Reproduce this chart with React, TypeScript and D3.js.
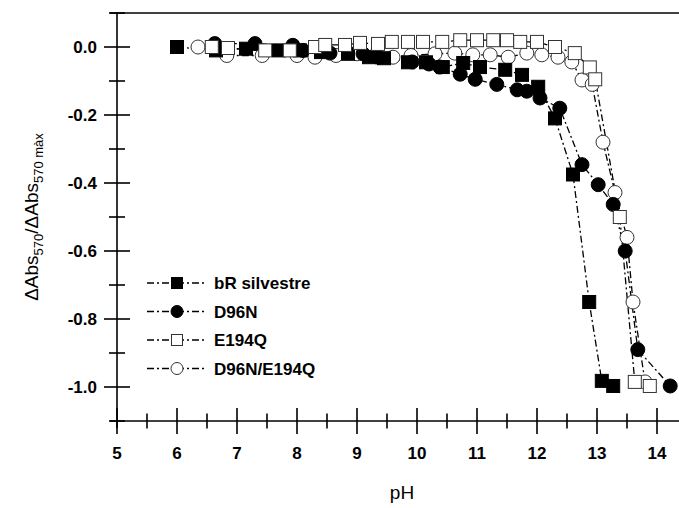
import React, { useEffect, useRef } from "react";
import * as d3 from "d3";

// pH vs normalised absorbance change
const bR: [number, number][] = [
  [6.0, 0], [6.65, -0.01], [7.15, -0.005], [7.7, -0.01], [8.05, -0.01], [8.4, -0.015],
  [8.85, -0.02], [9.2, -0.03], [9.45, -0.033], [9.85, -0.045], [10.15, -0.045],
  [10.43, -0.059], [10.77, -0.047], [11.05, -0.059], [11.47, -0.067], [11.75, -0.082],
  [12.02, -0.117], [12.3, -0.21], [12.6, -0.375], [12.87, -0.75], [13.08, -0.982], [13.27, -0.997],
];
const d96n: [number, number][] = [
  [6.63, 0.01], [7.3, 0.01], [7.93, 0.005], [8.1, -0.01], [8.55, -0.018], [9.1, -0.02],
  [9.35, -0.03], [9.92, -0.044], [10.2, -0.05], [10.38, -0.059], [10.72, -0.08],
  [10.97, -0.095], [11.33, -0.11], [11.67, -0.126], [11.83, -0.13], [12.05, -0.15],
  [12.38, -0.18], [12.75, -0.346], [13.02, -0.405], [13.27, -0.463], [13.47, -0.6],
  [13.68, -0.89], [14.22, -0.997],
];
const e194q: [number, number][] = [
  [6.58, 0], [6.85, -0.003], [7.47, -0.01], [7.88, -0.01], [8.3, 0.0], [8.47, 0.006],
  [8.8, 0.006], [9.05, 0.012], [9.35, 0.009], [9.58, 0.015], [9.85, 0.015], [10.1, 0.015],
  [10.42, 0.015], [10.72, 0.02], [11.0, 0.02], [11.27, 0.02], [11.5, 0.02], [11.72, 0.015],
  [12.0, 0.015], [12.3, 0.0], [12.63, -0.018], [12.88, -0.06], [12.97, -0.095],
  [13.38, -0.5], [13.63, -0.985], [13.88, -0.997],
];
const d96nE194q: [number, number][] = [
  [6.35, 0], [6.83, -0.025], [7.42, -0.025], [8.0, -0.025], [8.3, -0.03], [8.65, -0.025],
  [9.0, -0.02], [9.3, -0.025], [9.6, -0.03], [9.9, -0.025], [10.3, -0.02], [10.63, -0.018],
  [10.93, -0.023], [11.22, -0.023], [11.52, -0.03], [11.83, -0.018], [12.08, -0.023],
  [12.35, -0.03], [12.58, -0.044], [12.75, -0.097], [12.92, -0.11], [13.1, -0.28],
  [13.3, -0.428], [13.5, -0.56], [13.6, -0.75], [13.8, -0.985],
];

const seriesNames = ["bR silvestre", "D96N", "E194Q", "D96N/E194Q"];
const xTicks = [5, 6, 7, 8, 9, 10, 11, 12, 13, 14];
const yTicks = [0, -0.2, -0.4, -0.6, -0.8, -1.0];

export default function App() {
  const ref = useRef<SVGSVGElement>(null);

  useEffect(() => {
    const svg = d3.select(ref.current);
    svg.selectAll("*").remove();

    const x = d3.scaleLinear().domain([5, 14]).range([117, 657]);
    const y = d3.scaleLinear().domain([-1.1, 0.1]).range([421, 13]);
    const font = "Arial, 'Liberation Sans', sans-serif";

    const series = [
      { name: seriesNames[3], data: d96nE194q, shape: "circle", fill: "#fff" },
      { name: seriesNames[0], data: bR, shape: "square", fill: "#000" },
      { name: seriesNames[1], data: d96n, shape: "circle", fill: "#000" },
      { name: seriesNames[2], data: e194q, shape: "square", fill: "#fff" },
    ];

    const line = d3.line<[number, number]>().x((d) => x(d[0])).y((d) => y(d[1]));

    const drawMarker = (g: any, shape: string, fill: string, cx: number, cy: number, s: number) => {
      if (shape === "square") {
        g.append("rect")
          .attr("x", cx - s / 2).attr("y", cy - s / 2)
          .attr("width", s).attr("height", s)
          .attr("fill", fill)
          .attr("stroke", fill === "#000" ? "#000" : "#333")
          .attr("stroke-width", 1);
      } else {
        g.append("circle")
          .attr("cx", cx).attr("cy", cy).attr("r", s / 2)
          .attr("fill", fill)
          .attr("stroke", fill === "#000" ? "#000" : "#333")
          .attr("stroke-width", 1);
      }
    };

    // lines
    series.forEach((s) => {
      svg.append("path")
        .attr("d", line(s.data))
        .attr("fill", "none")
        .attr("stroke", "#000")
        .attr("stroke-width", 1.3)
        .attr("stroke-dasharray", "7,3,2,3");
    });
    // markers
    series.forEach((s) => {
      const g = svg.append("g");
      s.data.forEach((d) => drawMarker(g, s.shape, s.fill, x(d[0]), y(d[1]), s.shape === "square" ? 13 : 14));
    });

    // axes
    const ax = svg.append("g").attr("stroke", "#000").attr("stroke-width", 1.6);
    ax.append("line").attr("x1", 110).attr("x2", 679).attr("y1", 421).attr("y2", 421);
    ax.append("line").attr("x1", 110).attr("x2", 679).attr("y1", 13).attr("y2", 13);
    ax.append("line").attr("x1", 117).attr("x2", 117).attr("y1", 13).attr("y2", 428);

    d3.range(5, 14.51, 0.5).forEach((v) => {
      const major = Number.isInteger(v);
      const h = major ? 13 : 7.5;
      ax.append("line").attr("x1", x(v)).attr("x2", x(v)).attr("y1", 421 - h).attr("y2", 421 + h);
    });
    d3.range(0.1, -1.101, -0.1).forEach((v) => {
      const r = Math.round(v * 10);
      const major = r % 2 === 0;
      const h = major ? 13 : 8;
      ax.append("line").attr("x1", 117 - h).attr("x2", 117 + h).attr("y1", y(v)).attr("y2", y(v));
    });

    svg.append("g").selectAll("text").data(xTicks).enter().append("text")
      .attr("x", (d) => x(d)).attr("y", 459)
      .attr("text-anchor", "middle")
      .attr("font-family", font).attr("font-weight", "bold").attr("font-size", 17)
      .text((d) => String(d));

    svg.append("g").selectAll("text").data(yTicks).enter().append("text")
      .attr("x", 97).attr("y", (d) => y(d) + 6)
      .attr("text-anchor", "end")
      .attr("font-family", font).attr("font-weight", "bold").attr("font-size", 17)
      .text((d) => d3.format(".1f")(d).replace("−", "-"));

    svg.append("text")
      .attr("x", 402).attr("y", 499)
      .attr("text-anchor", "middle")
      .attr("font-family", font).attr("font-size", 19)
      .text("pH");

    const yt = svg.append("text")
      .attr("transform", "translate(38,217) rotate(-90)")
      .attr("text-anchor", "middle")
      .attr("font-family", font).attr("font-size", 19);
    yt.append("tspan").text("ΔAbs");
    yt.append("tspan").attr("font-size", 13).attr("dy", 5).text("570");
    yt.append("tspan").attr("dy", -5).text("/ΔAbs");
    yt.append("tspan").attr("font-size", 13).attr("dy", 5).text("570 màx");

    // legend
    const legendOrder = [
      { name: seriesNames[0], shape: "square", fill: "#000" },
      { name: seriesNames[1], shape: "circle", fill: "#000" },
      { name: seriesNames[2], shape: "square", fill: "#fff" },
      { name: seriesNames[3], shape: "circle", fill: "#fff" },
    ];
    legendOrder.forEach((l, i) => {
      const ly = 283 + i * 28.5;
      const g = svg.append("g");
      g.append("line").attr("x1", 147).attr("x2", 206).attr("y1", ly).attr("y2", ly)
        .attr("stroke", "#000").attr("stroke-width", 1.3).attr("stroke-dasharray", "7,3,2,3");
      drawMarker(g, l.shape, l.fill, 177, ly, l.shape === "square" ? 11 : 12);
      g.append("text").attr("x", 214).attr("y", ly + 6)
        .attr("font-family", font).attr("font-weight", "bold").attr("font-size", 17)
        .text(l.name);
    });
  }, []);

  return (
    <svg ref={ref} width={679} height={508} style={{ position: "absolute", left: 0, top: 0, background: "#fff" }} />
  );
}
